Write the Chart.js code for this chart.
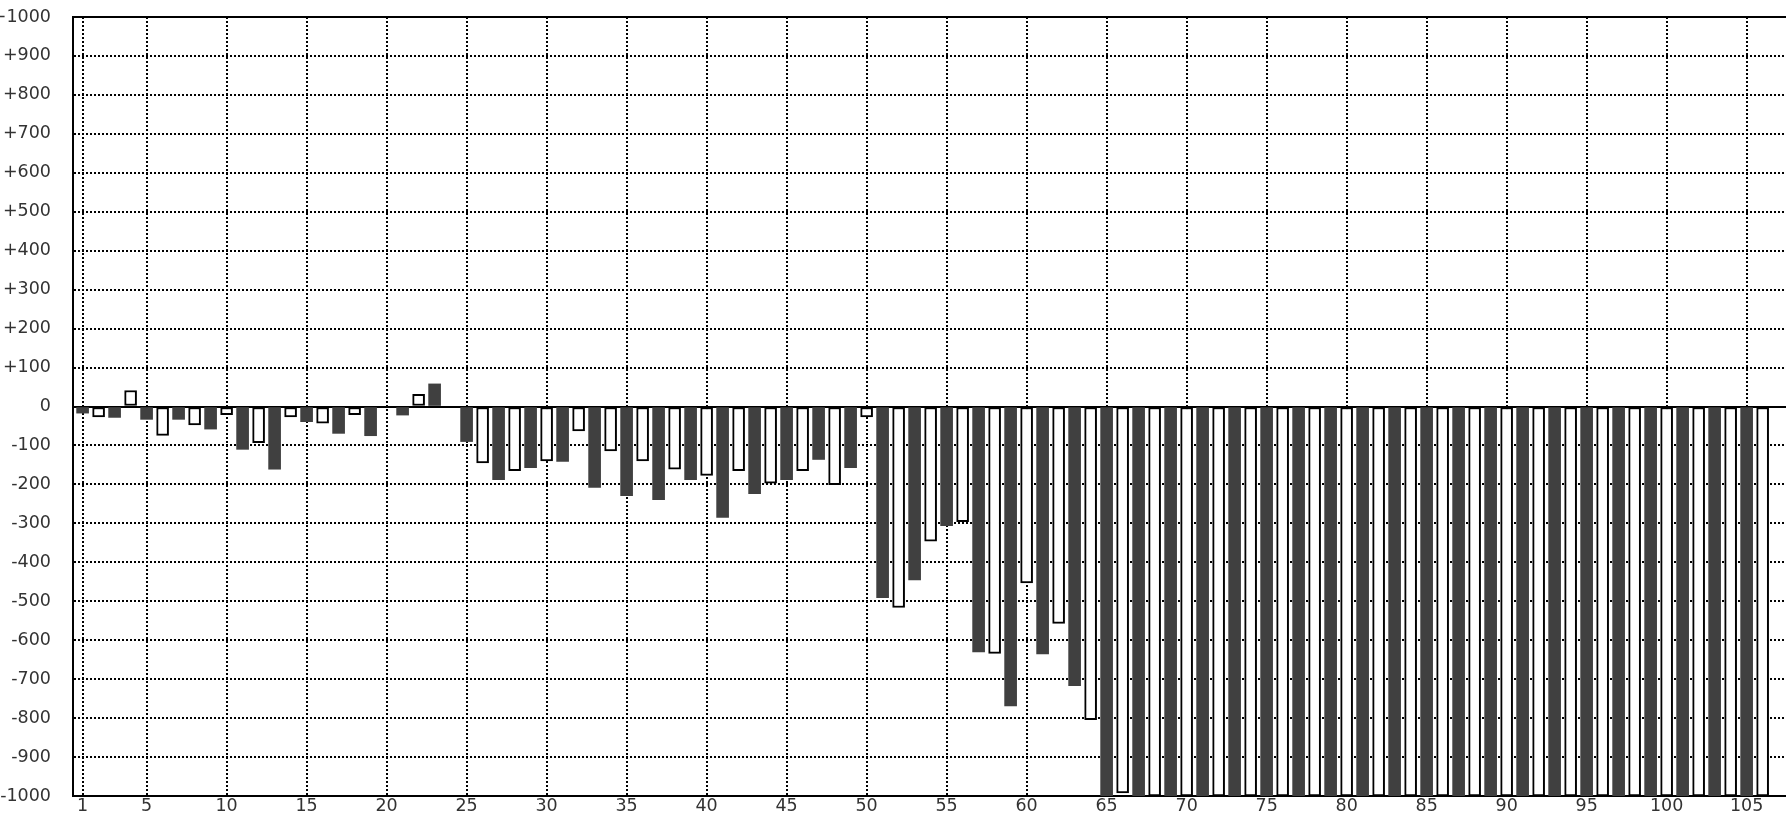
<!DOCTYPE html>
<html>
<head>
<meta charset="utf-8">
<title>Bars</title>
<script src="https://cdn.jsdelivr.net/npm/chart.js@4.4.0/dist/chart.umd.min.js"></script>
<style>
  html, body { margin: 0; padding: 0; background: #fff; overflow: hidden; }
  #wrap { width: 1786px; height: 818px; position: relative; }
</style>
</head>
<body>
<div id="wrap"><canvas id="chart"></canvas></div>
<script>
// x positions of the bars
const days = [
  1, 2, 3, 4, 5, 6, 7, 8, 9, 10, 11, 12, 13, 14, 15, 16, 17, 18, 19, 20,
  21, 22, 23, 24, 25, 26, 27, 28, 29, 30, 31, 32, 33, 34, 35, 36, 37, 38, 39, 40,
  41, 42, 43, 44, 45, 46, 47, 48, 49, 50, 51, 52, 53, 54, 55, 56, 57, 58, 59, 60,
  61, 62, 63, 64, 65, 66, 67, 68, 69, 70, 71, 72, 73, 74, 75, 76, 77, 78, 79, 80,
  81, 82, 83, 84, 85, 86, 87, 88, 89, 90, 91, 92, 93, 94, 95, 96, 97, 98, 99, 100,
  101, 102, 103, 104, 105, 106
];

// bar heights
const values = [
  -17, -27, -28, 41, -33, -74, -33, -47, -58, -21,
  -110, -93, -161, -27, -39, -43, -69, -21, -75, 0,
  -22, 31, 58, 0, -90, -145, -188, -165, -157, -140,
  -141, -63, -208, -114, -229, -140, -239, -161, -188, -177,
  -285, -165, -224, -197, -188, -165, -136, -201, -157, -27,
  -491, -516, -445, -346, -306, -296, -630, -634, -769, -453,
  -635, -557, -717, -804, -1000, -992, -1000, -1000, -1000, -1000,
  -1000, -1000, -1000, -1000, -1000, -1000, -1000, -1000, -1000, -1000,
  -1000, -1000, -1000, -1000, -1000, -1000, -1000, -1000, -1000, -1000,
  -1000, -1000, -1000, -1000, -1000, -1000, -1000, -1000, -1000, -1000,
  -1000, -1000, -1000, -1000, -1000, -1000
];

const xTicks = [1, 5, 10, 15, 20, 25, 30, 35, 40, 45, 50, 55, 60, 65, 70, 75, 80, 85, 90, 95, 100, 105];
const yTicks = [1000, 900, 800, 700, 600, 500, 400, 300, 200, 100, 0,
  -100, -200, -300, -400, -500, -600, -700, -800, -900, -1000];
const yTickLabels = ['+1000', '+900', '+800', '+700', '+600', '+500', '+400', '+300', '+200', '+100', '0',
  '-100', '-200', '-300', '-400', '-500', '-600', '-700', '-800', '-900', '-1000'];

const points = days.map((d, i) => ({ x: d, y: values[i] }));
const isDark = i => days[i] % 2 === 1;
const tickFont = { family: 'DejaVu Sans', size: 17.5 };

const ctx = document.getElementById('chart').getContext('2d');
new Chart(ctx, {
  type: 'bar',
  data: {
    datasets: [{
      data: points,
      barThickness: 12,
      backgroundColor: c => isDark(c.dataIndex) ? '#404040' : '#ffffff',
      borderColor: '#000',
      borderWidth: c => isDark(c.dataIndex) ? 0 : 2,
      borderSkipped: false
    }]
  },
  options: {
    animation: false,
    responsive: true,
    maintainAspectRatio: false,
    layout: { padding: { top: 17, left: 0, right: 0, bottom: 0 } },
    plugins: { legend: { display: false }, tooltip: { enabled: false } },
    scales: {
      x: {
        type: 'linear',
        min: 0.4,
        max: 107.46,
        offset: false,
        afterBuildTicks: s => { s.ticks = xTicks.map(v => ({ value: v })); },
        afterFit: s => { s.height = 22; s.paddingLeft = 0; s.paddingRight = 0; },
        grid: { offset: false, color: '#000', lineWidth: 2, drawTicks: false },
        border: { display: true, color: '#000', width: 2, dash: [2, 2] },
        ticks: {
          autoSkip: false,
          maxRotation: 0,
          padding: 0,
          color: '#333',
          font: tickFont,
          callback: v => String(v)
        }
      },
      y: {
        min: -1000,
        max: 1000,
        afterBuildTicks: s => { s.ticks = yTicks.slice().reverse().map(v => ({ value: v })); },
        afterFit: s => { s.width = 73; s.paddingTop = 0; s.paddingBottom = 0; },
        grid: {
          color: '#000',
          lineWidth: 2,
          drawTicks: false
        },
        border: {
          display: true,
          color: '#000',
          width: 2,
          dash: c => (c.tick && (c.tick.value === 0 || c.tick.value === 1000)) ? [] : [2, 2]
        },
        ticks: {
          autoSkip: false,
          padding: 22,
          color: '#333',
          font: tickFont,
          callback: v => yTickLabels[yTicks.indexOf(v)]
        }
      }
    }
  }
});
</script>
</body>
</html>
